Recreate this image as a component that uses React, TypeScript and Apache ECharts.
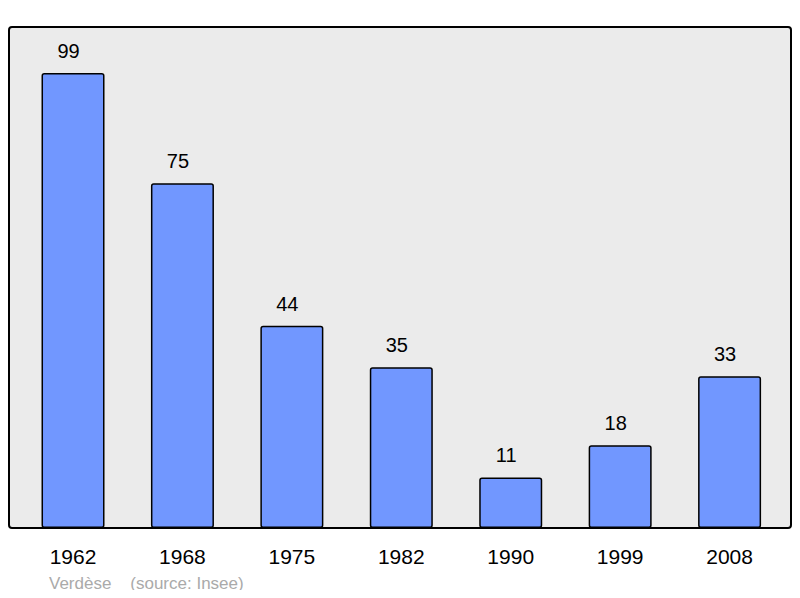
import React, { useEffect, useRef } from "react";
import * as echarts from "echarts";

const years = ["1962", "1968", "1975", "1982", "1990", "1999", "2008"];
const population = [99, 75, 44, 35, 11, 18, 33];
const footerText = "Verdèse    (source: Insee)";

const FONT = "Liberation Sans, Arial, sans-serif";

export default function App() {
  const ref = useRef<HTMLDivElement>(null);
  useEffect(() => {
    const chart = echarts.init(ref.current!, null, { renderer: "svg" });
    chart.setOption({
      animation: false,
      backgroundColor: "#ffffff",
      textStyle: { fontFamily: FONT },
      graphic: [
        {
          type: "rect",
          z: -10,
          shape: { x: 9, y: 27, width: 782, height: 501, r: 3 },
          style: { fill: "#ebebeb", stroke: "#000000", lineWidth: 2 },
        },
        {
          type: "text",
          x: 49,
          y: 575,
          style: {
            text: footerText,
            fill: "#aaaaaa",
            font: "17px Liberation Sans, Arial, sans-serif",
          },
        },
      ],
      grid: { left: 18.3, width: 766, top: 27, height: 501, containLabel: false },
      xAxis: {
        type: "category",
        data: years,
        axisLine: { show: false },
        axisTick: { show: false },
        axisLabel: {
          color: "#000000",
          fontSize: 21,
          margin: 18,
          fontFamily: FONT,
        },
      },
      yAxis: {
        type: "value",
        min: 0,
        max: 109,
        show: false,
        splitLine: { show: false },
      },
      series: [
        {
          type: "bar",
          data: population,
          barWidth: 63,
          itemStyle: {
            color: "#7197ff",
            borderColor: "#000000",
            borderWidth: 1.5,
            borderRadius: 2,
          },
          label: {
            show: true,
            position: "top",
            distance: 12,
            offset: [-4.5, 0],
            color: "#000000",
            fontSize: 20,
            fontFamily: FONT,
          },
        },
      ],
    });
    return () => chart.dispose();
  }, []);
  return <div ref={ref} style={{ width: 800, height: 598, margin: -8 }} />;
}
